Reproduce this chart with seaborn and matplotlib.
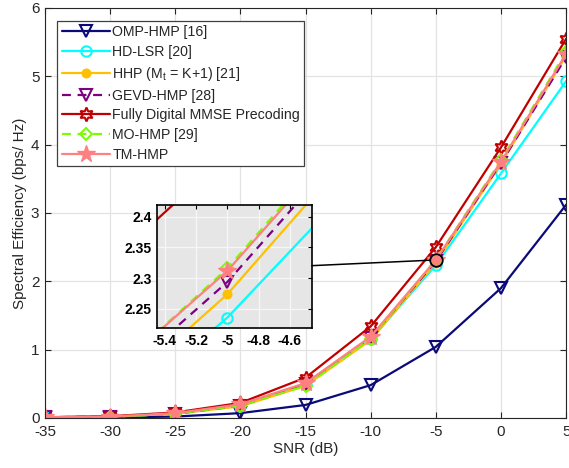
import matplotlib
matplotlib.use("Agg")
import matplotlib.pyplot as plt
from matplotlib.patches import ConnectionPatch
from matplotlib.ticker import FuncFormatter
import seaborn as sns
import numpy as np

# SNR sweep (dB)
snr = [-35, -30, -25, -20, -15, -10, -5, 0, 5]

# Spectral efficiency (bps/Hz) of each precoder
omp_hmp = [0.003, 0.006, 0.02, 0.07, 0.19, 0.48, 1.04, 1.90, 3.12]
hd_lsr = [0.01, 0.02, 0.06, 0.18, 0.48, 1.15, 2.236, 3.58, 4.93]
hhp = [0.01, 0.02, 0.06, 0.17, 0.47, 1.14, 2.274, 3.72, 5.30]
gevd_hmp = [0.01, 0.02, 0.06, 0.18, 0.49, 1.17, 2.294, 3.73, 5.28]
fully_digital = [0.01, 0.025, 0.08, 0.22, 0.59, 1.34, 2.50, 3.96, 5.55]
mo_hmp = [0.005, 0.015, 0.06, 0.18, 0.47, 1.16, 2.316, 3.77, 5.36]
tm_hmp = [0.01, 0.02, 0.07, 0.20, 0.51, 1.19, 2.312, 3.75, 5.33]

labels = ["OMP-HMP [16]", "HD-LSR [20]", r"HHP (M$_{\mathrm{t}}$ = K+1) [21]",
          "GEVD-HMP [28]", "Fully Digital MMSE Precoding", "MO-HMP [29]", "TM-HMP"]

series = [
    (omp_hmp, dict(color="#0a0a78", marker="v", ms=8, mfc="none", mew=1.5, ls="-")),
    (hd_lsr, dict(color="#00ffff", marker="o", ms=7.5, mfc="none", mew=1.5, ls="-")),
    (hhp, dict(color="#ffc000", marker="o", ms=6, mfc="#ffc000", mew=1.2, ls="-")),
    (gevd_hmp, dict(color="#7e0080", marker="v", ms=8, mfc="none", mew=1.5, ls=(0, (4, 3)))),
    (fully_digital, dict(color="#c00000", marker=(6, 1, 0), ms=10, mfc="none", mew=1.5, ls="-")),
    (mo_hmp, dict(color="#7cfc00", marker="D", ms=6.5, mfc="none", mew=1.5, ls=(0, (4, 3)))),
    (tm_hmp, dict(color="#ff8080", marker="*", ms=13, mfc="#ff8080", mew=1.0, ls="-")),
]

sns.set_theme(style="whitegrid")
plt.rcParams["font.family"] = ["Liberation Sans", "DejaVu Sans"]
plt.rcParams["mathtext.fontset"] = "custom"
plt.rcParams["mathtext.rm"] = "Liberation Sans"
plt.rcParams["mathtext.it"] = "Liberation Sans:italic"
plt.rcParams["axes.unicode_minus"] = False

fig = plt.figure(figsize=(5.69, 4.68), dpi=100)
ax = fig.add_axes([0.079, 0.107, 0.916, 0.876])


def draw_series(target, with_labels):
    for (vals, style), lab in zip(series, labels):
        sty = dict(style)
        ls = sty.pop("ls")
        sns.lineplot(x=snr, y=vals, ax=target, linewidth=1.6, linestyle=ls,
                     markeredgecolor=sty["color"], label=lab if with_labels else None,
                     legend=False, **sty)


draw_series(ax, True)

ax.set_xlim(-35, 5)
ax.set_ylim(0, 6)
ax.set_xticks(np.arange(-35, 6, 5))
ax.set_yticks(np.arange(0, 7, 1))
ax.set_xlabel("SNR (dB)", fontsize=11, color="#262626", labelpad=2)
ax.set_ylabel("Spectral Efficiency (bps/ Hz)", fontsize=11, color="#262626", labelpad=3)
ax.set_facecolor("white")
ax.grid(True, color="#e3e3e3", linewidth=0.9)
for sp in ax.spines.values():
    sp.set_color("#262626")
    sp.set_linewidth(0.8)
ax.tick_params(direction="in", length=4, width=0.8, colors="#262626",
               labelsize=11, top=True, right=True, bottom=True, left=True)
ax.tick_params(axis="x", pad=5)
ax.tick_params(axis="y", pad=4)

leg = ax.legend(loc="upper left", bbox_to_anchor=(0.024, 0.968), fontsize=10.15,
                frameon=True, fancybox=False, framealpha=1, edgecolor="#404040",
                borderpad=0.3, labelspacing=0.41, handlelength=3.4, handletextpad=0.2,
                borderaxespad=0)
leg.get_frame().set_linewidth(0.9)

# zoomed view around SNR = -5 dB
zoom_x = snr[6]
zoom_y = tm_hmp[6]
ax.plot([zoom_x], [zoom_y], marker="o", ms=9, mfc="none", mec="black", mew=1.3,
        zorder=10)

axins = fig.add_axes([0.276, 0.299, 0.272, 0.263])
draw_series(axins, False)
axins.set_xlim(-5.45, -4.46)
axins.set_ylim(2.219, 2.419)
axins.set_xticks([-5.4, -5.2, -5.0, -4.8, -4.6])
axins.set_yticks([2.25, 2.3, 2.35, 2.4])
axins.xaxis.set_major_formatter(FuncFormatter(lambda v, p: f"{v:g}"))
axins.yaxis.set_major_formatter(FuncFormatter(lambda v, p: f"{v:g}"))
axins.set_facecolor("#e6e6e6")
axins.grid(True, color="#f7f7f7", linewidth=0.9)
axins.set_xlabel("")
axins.set_ylabel("")
for sp in axins.spines.values():
    sp.set_color("black")
    sp.set_linewidth(1.2)
axins.tick_params(direction="in", length=3, width=0.8, colors="black",
                  labelsize=10, top=True, right=True, pad=4)
for t in axins.get_xticklabels() + axins.get_yticklabels():
    t.set_fontweight("bold")

con = ConnectionPatch(xyA=(1.0, 0.507), coordsA=axins.transAxes,
                      xyB=(zoom_x, zoom_y), coordsB=ax.transData,
                      color="black", linewidth=1.1, shrinkB=4.5)
fig.add_artist(con)

fig.savefig("out.png", dpi=100)
